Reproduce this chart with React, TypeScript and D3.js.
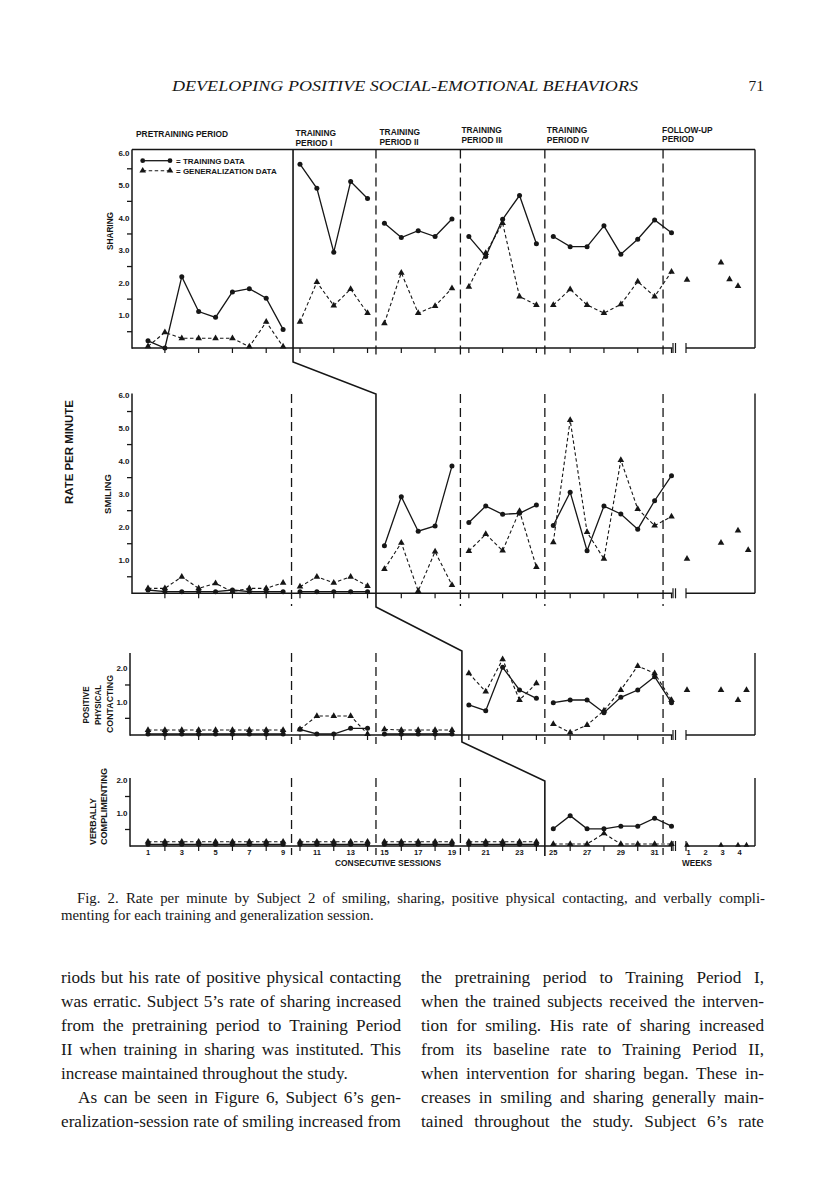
import React, { useLayoutEffect, useRef } from 'react';
import * as d3 from 'd3';

const INK = '#161616';
const SANS = '"Liberation Sans", Arial, sans-serif';
const SERIF = '"Liberation Serif", "Times New Roman", serif';

// ---------------- data ----------------
const sessions = d3.range(1, 33);
const periodStarts = [1, 10, 15, 20, 25];
const periodEnds = [9, 14, 19, 24, 32];
const boundaries = [9.5, 14.5, 19.5, 24.5, 31.5];
const sessionLabels = [1, 3, 5, 7, 9, 11, 13, 15, 17, 19, 21, 23, 25, 27, 29, 31];
const weekLabels = [1, 2, 3, 4];
const evenSessions = [2, 4, 6, 8, 10, 12, 14, 16, 18, 20, 22, 24, 26, 28, 30, 32];

const sharingTraining = [0.22, 0.0, 2.19, 1.12, 0.94, 1.72, 1.82, 1.53, 0.57, 5.64, 4.9, 2.94, 5.11, 4.59, 3.83, 3.39, 3.6, 3.42, 3.96, 3.42, 2.81, 3.95, 4.68, 3.2, 3.42, 3.11, 3.11, 3.75, 2.88, 3.34, 3.93, 3.54];
const sharingGeneralization = [0.05, 0.48, 0.3, 0.3, 0.3, 0.3, 0.04, 0.8, 0.04, 0.8, 2.02, 1.3, 1.81, 1.07, 0.76, 2.31, 1.07, 1.29, 1.83, 1.88, 2.91, 3.83, 1.58, 1.32, 1.32, 1.8, 1.32, 1.07, 1.34, 2.04, 1.58, 2.34];
const sharingFollowWeeks = [1, 3, 3.5, 4];
const sharingFollow = [2.09, 2.62, 2.11, 1.9];

const smilingTraining = [0.1, 0.05, 0.05, 0.05, 0.05, 0.1, 0.05, 0.05, 0.05, 0.05, 0.05, 0.05, 0.05, 0.05, 1.44, 2.92, 1.88, 2.04, 3.85, 2.14, 2.64, 2.39, 2.42, 2.67, 2.05, 3.06, 1.29, 2.64, 2.4, 1.94, 2.8, 3.56];
const smilingGeneralization = [0.15, 0.15, 0.5, 0.15, 0.3, 0.05, 0.15, 0.15, 0.32, 0.2, 0.5, 0.32, 0.5, 0.22, 0.73, 1.53, 0.07, 1.26, 0.25, 1.28, 1.79, 1.29, 2.49, 0.79, 1.54, 5.24, 1.85, 1.04, 4.03, 2.55, 2.05, 2.32];
const smilingFollowWeeks = [1, 3, 4, 4.6];
const smilingFollow = [1.04, 1.53, 1.9, 1.31];

const contactTraining = [0.03, 0.03, 0.03, 0.03, 0.03, 0.03, 0.03, 0.03, 0.03, 0.17, 0.03, 0.03, 0.2, 0.2, 0.03, 0.03, 0.03, 0.03, 0.03, 0.9, 0.73, 2.03, 1.35, 1.1, 0.97, 1.05, 1.05, 0.67, 1.13, 1.35, 1.75, 0.97];
const contactGeneralization = [0.15, 0.15, 0.15, 0.15, 0.15, 0.15, 0.15, 0.15, 0.15, 0.17, 0.57, 0.57, 0.57, 0.03, 0.17, 0.15, 0.15, 0.15, 0.15, 1.85, 1.3, 2.27, 1.05, 1.55, 0.33, 0.07, 0.3, 0.73, 1.35, 2.07, 1.85, 1.05];
const contactFollowWeeks = [1, 3, 4, 4.5];
const contactFollow = [1.35, 1.35, 1.05, 1.35];

const complimentTraining = [0.05, 0.05, 0.05, 0.05, 0.05, 0.05, 0.05, 0.05, 0.05, 0.05, 0.05, 0.05, 0.05, 0.05, 0.05, 0.05, 0.05, 0.05, 0.05, 0.05, 0.05, 0.05, 0.05, 0.05, 0.52, 0.92, 0.52, 0.52, 0.6, 0.6, 0.84, 0.6];
const complimentGeneralization = [0.13, 0.13, 0.13, 0.13, 0.13, 0.13, 0.13, 0.13, 0.13, 0.13, 0.13, 0.13, 0.13, 0.13, 0.13, 0.13, 0.13, 0.13, 0.13, 0.13, 0.13, 0.13, 0.13, 0.13, 0.06, 0.06, 0.06, 0.38, 0.06, 0.06, 0.06, 0.06];
const complimentFollowWeeks = [1, 3, 4, 4.5];
const complimentFollow = [0.03, 0.03, 0.03, 0.03];

const bigTicks = [1, 2, 3, 4, 5, 6];
const bigMinor = [0.5, 1.5, 2.5, 3.5, 4.5, 5.5];
const smallTicks = [1, 2];
const smallMinor = [0.5, 1.5];

const periodTitles = [
  ['PRETRAINING PERIOD'],
  ['TRAINING', 'PERIOD I'],
  ['TRAINING', 'PERIOD II'],
  ['TRAINING', 'PERIOD III'],
  ['TRAINING', 'PERIOD IV'],
  ['FOLLOW-UP', 'PERIOD'],
];

const headerText = 'DEVELOPING POSITIVE SOCIAL-EMOTIONAL BEHAVIORS';
const pageNumber = '71';
const captionLines = [
  'Fig. 2. Rate per minute by Subject 2 of smiling, sharing, positive physical contacting, and verbally compli-',
  'menting for each training and generalization session.',
];
const leftColumn = [
  'riods but his rate of positive physical contacting',
  'was erratic. Subject 5’s rate of sharing increased',
  'from the pretraining period to Training Period',
  'II when training in sharing was instituted. This',
  'increase maintained throughout the study.',
  'As can be seen in Figure 6, Subject 6’s gen-',
  'eralization-session rate of smiling increased from',
];
const rightColumn = [
  'the pretraining period to Training Period I,',
  'when the trained subjects received the interven-',
  'tion for smiling. His rate of sharing increased',
  'from its baseline rate to Training Period II,',
  'when intervention for sharing began. These in-',
  'creases in smiling and sharing generally main-',
  'tained throughout the study. Subject 6’s rate',
];

// ---------------- layout ----------------
const x = d3.scaleLinear().domain([1, 32]).range([148, 671.5]);
const xFu = d3.scaleLinear().domain([1, 4]).range([687, 738]);
const RIGHT = 755;
const AXIS_END = 672.5;
const FU_START = 686;

type Panel = {
  id: string;
  axisX: number;
  y0: number;
  vMax: number;
  yMax: number;
  axisTop: number;
  ticks: number[];
  minor: number[];
  solid: number;
  divTop: number;
  divBottom: number;
  boxTop: boolean;
  train: number[];
  gen: number[];
  fuW: number[];
  fuV: number[];
};

const panels: Panel[] = [
  { id: 'sharing', axisX: 132, y0: 348, vMax: 6, yMax: 152.5, axisTop: 149.5, ticks: bigTicks, minor: bigMinor, solid: 0, divTop: 149.5, divBottom: 358, boxTop: true, train: sharingTraining, gen: sharingGeneralization, fuW: sharingFollowWeeks, fuV: sharingFollow },
  { id: 'smiling', axisX: 132, y0: 593.3, vMax: 6, yMax: 395, axisTop: 393.5, ticks: bigTicks, minor: bigMinor, solid: 1, divTop: 394, divBottom: 606, boxTop: false, train: smilingTraining, gen: smilingGeneralization, fuW: smilingFollowWeeks, fuV: smilingFollow },
  { id: 'contact', axisX: 130, y0: 735, vMax: 2, yMax: 668.3, axisTop: 653, ticks: smallTicks, minor: smallMinor, solid: 2, divTop: 653, divBottom: 744, boxTop: false, train: contactTraining, gen: contactGeneralization, fuW: contactFollowWeeks, fuV: contactFollow },
  { id: 'compliment', axisX: 130, y0: 846, vMax: 2, yMax: 780, axisTop: 778, ticks: smallTicks, minor: smallMinor, solid: 3, divTop: 778, divBottom: 855, boxTop: false, train: complimentTraining, gen: complimentGeneralization, fuW: complimentFollowWeeks, fuV: complimentFollow },
];

const triPath = d3.symbol().type(d3.symbolTriangle).size(19)() as string;
const triSmall = d3.symbol().type(d3.symbolTriangle).size(14)() as string;

function PanelView({ p }: { p: Panel }) {
  const y = d3.scaleLinear().domain([0, p.vMax]).range([p.y0, p.yMax]);
  const segs = periodStarts.map((s, i) => sessions.filter((k) => k >= s && k <= periodEnds[i]));
  const trainLine = d3.line<number>().x((s) => x(s)).y((s) => y(p.train[s - 1]));
  const genLine = d3.line<number>().x((s) => x(s)).y((s) => y(p.gen[s - 1]));
  return (
    <g>
      {/* y axis */}
      <line x1={p.axisX} x2={p.axisX} y1={p.axisTop} y2={p.y0 + 0.7} stroke={INK} strokeWidth={1.5} />
      {p.minor.map((v) => (
        <line key={'m' + v} x1={p.axisX - 5} x2={p.axisX} y1={y(v)} y2={y(v)} stroke={INK} strokeWidth={1.3} />
      ))}
      {p.ticks.map((v) => (
        <text key={'t' + v} x={p.axisX - 2.5} y={y(v) + 3} textAnchor="end" fontFamily={SANS} fontWeight={700} fontSize={8} fill={INK}>
          {v.toFixed(1)}
        </text>
      ))}
      {/* box parts */}
      {p.boxTop && <line x1={p.axisX} x2={RIGHT} y1={p.axisTop} y2={p.axisTop} stroke={INK} strokeWidth={1.4} />}
      <line x1={RIGHT} x2={RIGHT} y1={p.axisTop} y2={p.y0} stroke={INK} strokeWidth={1.4} />
      {/* x axis */}
      <line x1={p.axisX} x2={AXIS_END} y1={p.y0} y2={p.y0} stroke={INK} strokeWidth={1.4} />
      {evenSessions.map((s) => (
        <line key={'e' + s} x1={x(s)} x2={x(s)} y1={p.y0} y2={p.y0 + 5} stroke={INK} strokeWidth={1.2} />
      ))}
      <line x1={AXIS_END + 0.5} x2={AXIS_END + 0.5} y1={p.y0 - 5} y2={p.y0 + 5} stroke={INK} strokeWidth={1.2} />
      <line x1={AXIS_END + 3} x2={AXIS_END + 3} y1={p.y0 - 5} y2={p.y0 + 5} stroke={INK} strokeWidth={1.2} />
      <line x1={FU_START} x2={RIGHT} y1={p.y0} y2={p.y0} stroke={INK} strokeWidth={1.4} />
      <line x1={FU_START} x2={FU_START} y1={p.y0 - 5} y2={p.y0 + 5} stroke={INK} strokeWidth={1.2} />
      {/* dashed period dividers */}
      {boundaries.map((b, i) =>
        i === p.solid ? null : (
          <line key={'d' + b} x1={x(b)} x2={x(b)} y1={p.divTop} y2={p.divBottom} stroke={INK} strokeWidth={1.3} strokeDasharray="9 5" />
        ),
      )}
      {/* data */}
      {segs.map((seg, i) => (
        <g key={'s' + i}>
          <path d={genLine(seg) || ''} fill="none" stroke={INK} strokeWidth={1.1} strokeDasharray="3.5 2.5" />
          <path d={trainLine(seg) || ''} fill="none" stroke={INK} strokeWidth={1.3} />
        </g>
      ))}
      {sessions.map((s) => (
        <path key={'g' + s} d={triPath} transform={`translate(${x(s)},${y(p.gen[s - 1])})`} fill={INK} />
      ))}
      {sessions.map((s) => (
        <circle key={'c' + s} cx={x(s)} cy={y(p.train[s - 1])} r={2.5} fill={INK} />
      ))}
      {p.fuW.map((w, i) => (
        <path key={'f' + i} d={p.id === 'compliment' ? triSmall : triPath} transform={`translate(${xFu(w)},${y(p.fuV[i])})`} fill={INK} />
      ))}
    </g>
  );
}

const BODY_FONT = 17.2;
const LEFT_X = 61;
const LEFT_W = 340;
const RIGHT_X = 421;
const RIGHT_W = 343;

export default function App() {
  const ref = useRef<SVGSVGElement>(null);

  useLayoutEffect(() => {
    const justify = () => {
      const svg = ref.current;
      if (!svg) return;
      svg.querySelectorAll('text[data-jw]').forEach((el) => {
        const t = el as SVGTextElement;
        t.style.wordSpacing = '0px';
        const target = +(t.getAttribute('data-jw') || 0);
        const w = t.getComputedTextLength();
        const spaces = (t.textContent || '').split(' ').length - 1;
        if (spaces > 0) t.style.wordSpacing = `${(target - w) / spaces}px`;
      });
    };
    justify();
    if ((document as any).fonts && (document as any).fonts.ready) {
      (document as any).fonts.ready.then(justify);
    }
  }, []);

  const stair = [
    [x(9.5) + 1.5, 149.5],
    [x(9.5) + 1.5, 362],
    [x(14.5), 394],
    [x(14.5), 607],
    [x(19.5) + 1.5, 651],
    [x(19.5) + 1.5, 742],
    [x(24.5), 781],
    [x(24.5), 856],
  ] as [number, number][];
  const stairPath = d3.line()(stair) || '';

  const titleX = [136, x(9.5) + 4, x(14.5) + 3.5, x(19.5) + 1, x(24.5) + 2, x(31.5) - 1];
  const titleY = [137.3, 136, 135, 133, 133, 132.7];

  const smallLabel = { fontFamily: SANS, fontWeight: 700, fill: INK } as const;

  return (
    <svg ref={ref} width={816} height={1195} viewBox="0 0 816 1195" style={{ position: 'absolute', left: 0, top: 0, background: '#fff' }}>
      <rect x={0} y={0} width={816} height={1195} fill="#fff" />

      {/* running header */}
      <text x={172} y={91} fontFamily={SERIF} fontStyle="italic" fontSize={15.5} textLength={466} lengthAdjust="spacingAndGlyphs" fill={INK}>
        {headerText}
      </text>
      <text x={764} y={91} textAnchor="end" fontFamily={SERIF} fontSize={15.5} fill={INK}>
        {pageNumber}
      </text>

      {/* period titles */}
      {periodTitles.map((lines, i) => (
        <g key={'pt' + i}>
          {lines.map((ln, j) => (
            <text key={j} x={titleX[i]} y={titleY[i] + j * 9.7} fontSize={8.4} {...smallLabel}>
              {ln}
            </text>
          ))}
        </g>
      ))}

      {panels.map((p) => (
        <PanelView key={p.id} p={p} />
      ))}

      <path d={stairPath} fill="none" stroke={INK} strokeWidth={1.6} />

      {/* legend */}
      <g>
        <line x1={142.7} x2={170} y1={160.7} y2={160.7} stroke={INK} strokeWidth={1.3} />
        <circle cx={142.7} cy={160.7} r={2.4} fill={INK} />
        <circle cx={170} cy={160.7} r={2.4} fill={INK} />
        <text x={176} y={163.6} fontSize={8} {...smallLabel}>= TRAINING DATA</text>
        <line x1={142.7} x2={170} y1={170.7} y2={170.7} stroke={INK} strokeWidth={1.1} strokeDasharray="3.5 2.5" />
        <path d={triPath} transform="translate(142.7,170.7)" fill={INK} />
        <path d={triPath} transform="translate(170,170.7)" fill={INK} />
        <text x={176} y={173.6} fontSize={8} {...smallLabel}>= GENERALIZATION DATA</text>
      </g>

      {/* axis titles */}
      <text transform="translate(109,231) rotate(-90)" textAnchor="middle" dominantBaseline="central" fontSize={9.5} textLength={38} lengthAdjust="spacingAndGlyphs" {...smallLabel}>SHARING</text>
      <text transform="translate(107.5,494) rotate(-90)" textAnchor="middle" dominantBaseline="central" fontSize={9.5} textLength={40} lengthAdjust="spacingAndGlyphs" {...smallLabel}>SMILING</text>
      <text transform="translate(69,452) rotate(-90)" textAnchor="middle" dominantBaseline="central" fontSize={10.5} textLength={104} lengthAdjust="spacingAndGlyphs" {...smallLabel}>RATE PER MINUTE</text>
      <text transform="translate(85.5,705) rotate(-90)" textAnchor="middle" dominantBaseline="central" fontSize={9.5} textLength={37} lengthAdjust="spacingAndGlyphs" {...smallLabel}>POSITIVE</text>
      <text transform="translate(97.5,705) rotate(-90)" textAnchor="middle" dominantBaseline="central" fontSize={9.5} textLength={40} lengthAdjust="spacingAndGlyphs" {...smallLabel}>PHYSICAL</text>
      <text transform="translate(109,704) rotate(-90)" textAnchor="middle" dominantBaseline="central" fontSize={9.5} textLength={58} lengthAdjust="spacingAndGlyphs" {...smallLabel}>CONTACTING</text>
      <text transform="translate(92,845) rotate(-90)" textAnchor="start" dominantBaseline="central" fontSize={9.5} textLength={47} lengthAdjust="spacingAndGlyphs" {...smallLabel}>VERBALLY</text>
      <text transform="translate(103.5,845) rotate(-90)" textAnchor="start" dominantBaseline="central" fontSize={9.5} textLength={77} lengthAdjust="spacingAndGlyphs" {...smallLabel}>COMPLIMENTING</text>

      {/* session / week labels */}
      {sessionLabels.map((s) => (
        <text key={'sl' + s} x={x(s)} y={854.5} textAnchor="middle" fontSize={7.5} {...smallLabel}>{s}</text>
      ))}
      {weekLabels.map((w) => (
        <text key={'wl' + w} x={xFu(w) + 1.5} y={854.5} textAnchor="middle" fontSize={7.5} {...smallLabel}>{w}</text>
      ))}
      <text x={335} y={865.5} fontSize={8.2} textLength={106} lengthAdjust="spacingAndGlyphs" {...smallLabel}>CONSECUTIVE SESSIONS</text>
      <text x={682} y={865.5} fontSize={8.2} textLength={30} lengthAdjust="spacingAndGlyphs" {...smallLabel}>WEEKS</text>

      {/* caption */}
      <text x={77} y={903} fontFamily={SERIF} fontSize={14.8} fill={INK} data-jw={688}>{captionLines[0]}</text>
      <text x={LEFT_X} y={920} fontFamily={SERIF} fontSize={14.8} fill={INK}>{captionLines[1]}</text>

      {/* body text */}
      {leftColumn.map((ln, i) => {
        const indent = i === 5 ? 17 : 0;
        const justified = i !== 4;
        const props: any = justified ? { 'data-jw': LEFT_W - indent } : {};
        return (
          <text key={'L' + i} x={LEFT_X + indent} y={983 + i * 24} fontFamily={SERIF} fontSize={BODY_FONT} fill={INK} {...props}>
            {ln}
          </text>
        );
      })}
      {rightColumn.map((ln, i) => (
        <text key={'R' + i} x={RIGHT_X} y={983 + i * 24} fontFamily={SERIF} fontSize={BODY_FONT} fill={INK} data-jw={RIGHT_W}>
          {ln}
        </text>
      ))}
    </svg>
  );
}
